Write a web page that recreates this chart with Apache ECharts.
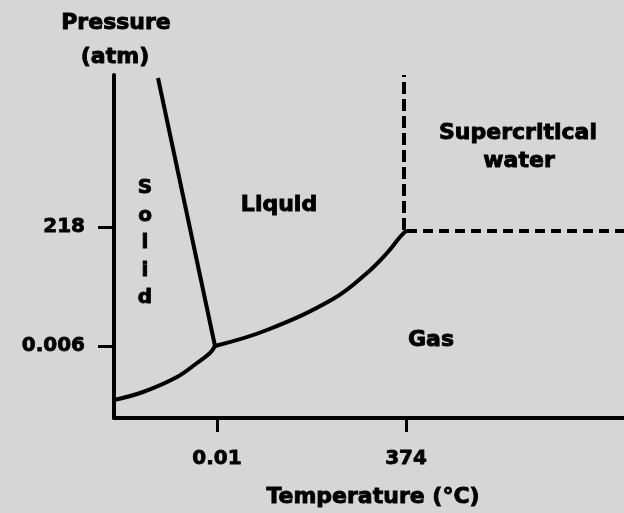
<!DOCTYPE html>
<html>
<head>
<meta charset="utf-8">
<script src="https://cdn.jsdelivr.net/npm/echarts@6/dist/echarts.min.js"></script>
<style>
  html, body { margin: 0; padding: 0; }
  #main { width: 624px; height: 513px; }
</style>
</head>
<body>
<div id="main"></div>
<script>
// schematic units (diagram is not to scale)
var xTickPos = [103, 292];
var xTickLabels = ['0.01', '374'];
var yTickPos = [72, 191];
var yTickLabels = ['0.006', '218'];

// sublimation curve (solid / gas)
var subT = [0, 29, 63, 83, 96, 101];
var subP = [18, 26, 41, 55, 65, 72];
// melting line (solid / liquid)
var meltT = [101, 44];
var meltP = [72, 340];
// vaporization curve (liquid / gas)
var vapT = [101, 153, 219, 253, 273, 286, 293];
var vapP = [72, 88, 119, 145, 165, 181, 188];
// critical point boundaries (dashed)
var critVT = [290, 290];
var critVP = [188, 343];
var critHT = [293, 510];
var critHP = [187, 187];

function pairs(xs, ys) {
  return xs.map(function (x, i) { return [x, ys[i]]; });
}

var myChart = echarts.init(document.getElementById('main'));
var font = '"DejaVu Sans", sans-serif';
var lbl = { fontFamily: font, fontWeight: 'bold', fontSize: 20, color: '#000', textBorderColor: '#000', textBorderWidth: 0.8 };

function txt(x, y, s, size) {
  return { type: 'text', x: x, y: y, style: { text: s, font: 'bold ' + size + 'px ' + font, fill: '#000', stroke: '#000', lineWidth: 0.9, align: 'center', verticalAlign: 'middle' } };
}

myChart.setOption({
  backgroundColor: '#d6d6d6',
  animation: false,
  grid: { left: 114, right: 0, top: 75, bottom: 95 },
  xAxis: {
    type: 'value', min: 0, max: 510,
    axisLine: { show: true, lineStyle: { color: '#000', width: 4 } },
    axisTick: { show: true, customValues: xTickPos, length: 14, lineStyle: { color: '#000', width: 3 } },
    axisLabel: Object.assign({ customValues: xTickPos, margin: 31,
      formatter: function (v) { return xTickLabels[xTickPos.indexOf(v)]; } }, lbl),
    splitLine: { show: false }
  },
  yAxis: {
    type: 'value', min: 0, max: 343,
    axisLine: { show: true, lineStyle: { color: '#000', width: 4 } },
    axisTick: { show: true, customValues: yTickPos, length: 16, lineStyle: { color: '#000', width: 3 } },
    axisLabel: Object.assign({ customValues: yTickPos, margin: 29,
      formatter: function (v) { return yTickLabels[yTickPos.indexOf(v)]; } }, lbl),
    splitLine: { show: false }
  },
  series: [
    { type: 'line', data: pairs(subT, subP), smooth: 0.4, symbol: 'none', lineStyle: { color: '#000', width: 4 } },
    { type: 'line', data: pairs(meltT, meltP), symbol: 'none', lineStyle: { color: '#000', width: 4 } },
    { type: 'line', data: pairs(vapT, vapP), smooth: 0.4, symbol: 'none', lineStyle: { color: '#000', width: 4 } },
    { type: 'line', data: pairs(critVT, critVP), symbol: 'none', lineStyle: { color: '#000', width: 4, type: [12, 5] } },
    { type: 'line', data: pairs(critHT, critHP), symbol: 'none', lineStyle: { color: '#000', width: 4, type: [10, 6] } }
  ],
  graphic: [
    txt(116, 23, 'Pressure', 22),
    txt(115, 57, '(atm)', 22),
    txt(373, 497, 'Temperature (°C)', 22),
    { type: 'text', x: 145, y: 243, style: { text: 'S\no\nl\ni\nd', font: 'bold 20px ' + font, lineHeight: 27.5, fill: '#000', stroke: '#000', lineWidth: 0.9, align: 'center', verticalAlign: 'middle' } },
    txt(279, 205, 'Liquid', 22),
    txt(518, 133, 'Supercritical', 22),
    txt(519, 161, 'water', 22),
    txt(431, 340, 'Gas', 22)
  ]
});
</script>
</body>
</html>
